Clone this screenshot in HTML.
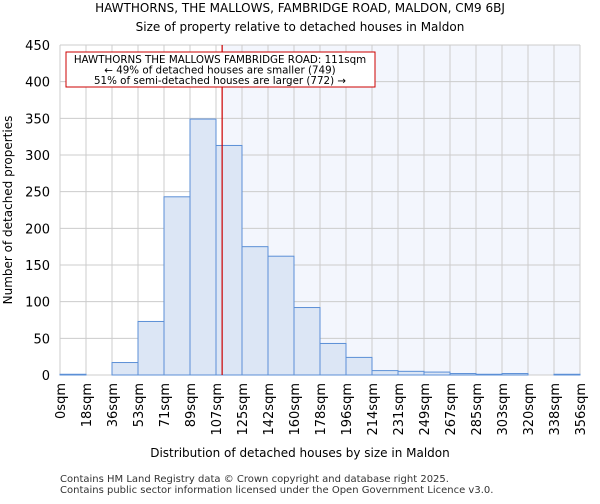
<!DOCTYPE html>
<html><head><meta charset="utf-8"><style>
body{margin:0;background:#fff;font-family:"DejaVu Sans","Liberation Sans",sans-serif}
svg text{font-family:"DejaVu Sans","Liberation Sans",sans-serif}
</style></head><body>
<svg id="c" width="600" height="500">
<text x="300" y="12" text-anchor="middle" font-size="12">HAWTHORNS, THE MALLOWS, FAMBRIDGE ROAD, MALDON, CM9 6BJ</text>
<text x="300" y="31" text-anchor="middle" font-size="12">Size of property relative to detached houses in Maldon</text>
<g id="g"></g>
<text x="300" y="457" text-anchor="middle" font-size="12">Distribution of detached houses by size in Maldon</text>
<text transform="translate(12,210) rotate(-90)" text-anchor="middle" font-size="12">Number of detached properties</text>
<text x="60" y="482" font-size="10" fill="#333">Contains HM Land Registry data © Crown copyright and database right 2025.</text>
<text x="60" y="493" font-size="10" fill="#333">Contains public sector information licensed under the Open Government Licence v3.0.</text>
</svg>
<script>
const tickLabels=["0sqm","18sqm","36sqm","53sqm","71sqm","89sqm","107sqm","125sqm","142sqm","160sqm","178sqm","196sqm","214sqm","231sqm","249sqm","267sqm","285sqm","303sqm","320sqm","338sqm","356sqm"];
const counts=[1,0,17,73,243,349,313,175,162,92,43,24,6,5,4,2,1,2,0,1];
const yTicks=[0,50,100,150,200,250,300,350,400,450];
const markerSqm=111;
const binEdges=[0,17.8,35.6,53.4,71.2,89,106.8,124.6,142.4,160.2,178,195.8,213.6,231.4,249.2,267,284.8,302.6,320.4,338.2,356];
const X0=60,X1=580,Y0=375,Y1=45;
const xb=i=>X0+i*(X1-X0)/counts.length;
const y=v=>Y0-v*(Y0-Y1)/450;
const xs=v=>{for(let i=0;i<binEdges.length-1;i++){if(v<=binEdges[i+1])return xb(i)+(v-binEdges[i])/(binEdges[i+1]-binEdges[i])*(xb(i+1)-xb(i));}return X1;};
const g=document.getElementById('g');const NS="http://www.w3.org/2000/svg";
function mk(t,a,p){const e=document.createElementNS(NS,t);for(const k in a)e.setAttribute(k,a[k]);(p||g).appendChild(e);return e;}
const mx=xs(markerSqm);
let e=mk('rect',{x:mx,y:Y1,width:X1-mx,height:Y0-Y1,fill:'#f3f6fd'});


yTicks.forEach(v=>{let l=mk('line',{x1:X0,x2:X1,y1:y(v),y2:y(v),stroke:'#ccc'});


let t=mk('text',{x:X0-10,y:y(v)+5,'text-anchor':'end','font-size':13});t.textContent=v;

});
tickLabels.forEach((s,i)=>{let l=mk('line',{x1:xb(i),x2:xb(i),y1:Y1,y2:Y0,stroke:'#ccc'});


let t=mk('text',{transform:`translate(${xb(i)+5},${Y0+8}) rotate(-90)`,'text-anchor':'end','font-size':13});t.textContent=s;

});
counts.forEach((c,i)=>{let r=mk('rect',{x:xb(i),y:y(c),width:xb(i+1)-xb(i),height:Y0-y(c),fill:'#dce6f5',stroke:'#5b8fd6','stroke-width':1});

});
e=mk('line',{x1:mx,x2:mx,y1:Y1,y2:Y0,stroke:'#cc0000','stroke-width':1.2});


e=mk('rect',{x:66,y:52,width:309,height:35,fill:'#fff',stroke:'#cc0000'});


["HAWTHORNS THE MALLOWS FAMBRIDGE ROAD: 111sqm","← 49% of detached houses are smaller (749)","51% of semi-detached houses are larger (772) →"].forEach((s,i)=>{let t=mk('text',{x:220,y:63+i*10.5,'text-anchor':'middle','font-size':10.3});t.textContent=s;

});
</script>
</body></html>
